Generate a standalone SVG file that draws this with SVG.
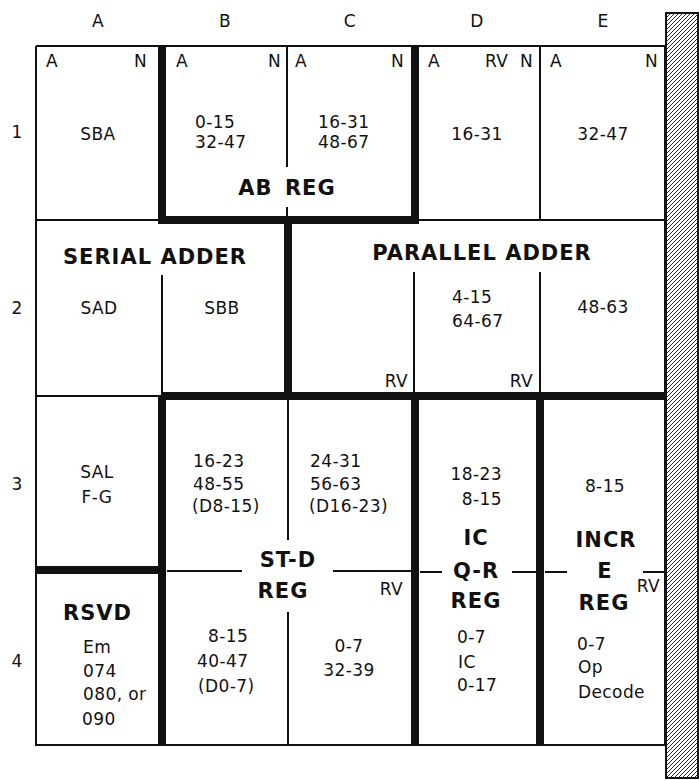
<svg xmlns="http://www.w3.org/2000/svg" width="699" height="780" viewBox="0 0 699 780">
<style>
text{font-family:"DejaVu Sans","Liberation Sans",sans-serif;fill:#111;}
.t{font-size:17px;letter-spacing:0.4px;}
.b{font-size:21px;font-weight:bold;letter-spacing:1px;}
.m{text-anchor:middle;}
.e{text-anchor:end;}
.thin{stroke:#111;stroke-width:2;fill:none;}
.thick{stroke:#111;stroke-width:8;fill:none;stroke-linecap:square;}
</style>
<defs>
<pattern id="hatch" patternUnits="userSpaceOnUse" width="4" height="4">
<path d="M-1,1 L1,-1 M0,4 L4,0 M3,5 L5,3" stroke="#111" stroke-width="0.9"/>
</pattern>
</defs>
<rect width="699" height="780" fill="#fff"/>

<g id="connectors">
<g id="thin-lines" class="thin">
<path d="M36,46 H665 M36,46 V745 H665 M665,46 V745"/>
<path d="M36,220 H162 M419,220 H665"/>
<path d="M287,46 V167 M287,207 V220"/>
<path d="M540,46 V220"/>
<path d="M162,275 V396 M414,272 V396 M540,272 V396"/>
<path d="M36,396 H162"/>
<path d="M288,400 V540 M288,612 V745"/>
<path d="M167,571 H242 M333,571 H411 M420,572 H442 M512,572 H536 M545,572 H567 M643,572 H665"/>
</g>
<g id="thick-lines" class="thick">
<path d="M162,46 V220 H415 V46" stroke-linejoin="miter" stroke-linecap="butt"/>
<path d="M288,220 V396"/>
<path d="M162,396 H665" stroke-linecap="butt"/>
<path d="M162,396 V745 M415,396 V745 M540,396 V745" stroke-linecap="butt"/>
<path d="M36,570 H162" stroke-linecap="butt"/>
</g>
</g>

<g id="bar">
<rect x="666" y="13" width="32" height="765" fill="url(#hatch)" stroke="#111" stroke-width="2"/>
</g>

<g id="headers">
<text x="98" y="27" class="t m">A</text>
<text x="225" y="27" class="t m">B</text>
<text x="350" y="27" class="t m">C</text>
<text x="477" y="27" class="t m">D</text>
<text x="603" y="27" class="t m">E</text>
<text x="17" y="138" class="t m">1</text>
<text x="17" y="314" class="t m">2</text>
<text x="17" y="490" class="t m">3</text>
<text x="17" y="667" class="t m">4</text>
</g>

<g id="cell-A1">
<text x="46" y="67" class="t">A</text>
<text x="147" y="67" class="t e">N</text>
<text x="98" y="140" class="t m">SBA</text>
</g>
<g id="cell-B1">
<text x="176" y="67" class="t">A</text>
<text x="281" y="67" class="t e">N</text>
<text x="195" y="128" class="t">0-15</text>
<text x="195" y="148" class="t">32-47</text>
</g>
<g id="cell-C1">
<text x="295" y="67" class="t">A</text>
<text x="404" y="67" class="t e">N</text>
<text x="318" y="128" class="t">16-31</text>
<text x="318" y="148" class="t">48-67</text>
</g>
<g id="ab-reg">
<text x="287" y="195" class="b m" word-spacing="4">AB REG</text>
</g>
<g id="cell-D1">
<text x="428" y="67" class="t">A</text>
<text x="485" y="67" class="t">RV</text>
<text x="533" y="67" class="t e">N</text>
<text x="477" y="140" class="t m">16-31</text>
</g>
<g id="cell-E1">
<text x="550" y="67" class="t">A</text>
<text x="658" y="67" class="t e">N</text>
<text x="603" y="140" class="t m">32-47</text>
</g>

<g id="serial-adder">
<text x="155" y="264" class="b m">SERIAL ADDER</text>
<text x="99" y="314" class="t m">SAD</text>
<text x="222" y="314" class="t m">SBB</text>
</g>
<g id="parallel-adder">
<text x="482" y="260" class="b m">PARALLEL ADDER</text>
<text x="452" y="303" class="t">4-15</text>
<text x="452" y="327" class="t">64-67</text>
<text x="603" y="313" class="t m">48-63</text>
<text x="408" y="387" class="t e">RV</text>
<text x="533" y="387" class="t e">RV</text>
</g>

<g id="cell-A3">
<text x="97" y="478" class="t m">SAL</text>
<text x="97" y="503" class="t m">F-G</text>
</g>
<g id="st-d-reg">
<text x="193" y="467" class="t">16-23</text>
<text x="193" y="490" class="t">48-55</text>
<text x="192" y="512" class="t">(D8-15)</text>
<text x="310" y="467" class="t">24-31</text>
<text x="310" y="490" class="t">56-63</text>
<text x="309" y="512" class="t">(D16-23)</text>
<text x="288" y="567" class="b m" letter-spacing="3">ST-D</text>
<text x="283" y="598" class="b m">REG</text>
<text x="403" y="595" class="t e">RV</text>
<text x="208" y="642" class="t">8-15</text>
<text x="197" y="667" class="t">40-47</text>
<text x="198" y="692" class="t">(D0-7)</text>
<text x="349" y="652" class="t m">0-7</text>
<text x="349" y="676" class="t m">32-39</text>
</g>
<g id="ic-qr-reg">
<text x="502" y="480" class="t e">18-23</text>
<text x="502" y="505" class="t e">8-15</text>
<text x="476" y="545" class="b m">IC</text>
<text x="476" y="578" class="b m">Q-R</text>
<text x="476" y="608" class="b m">REG</text>
<text x="457" y="643" class="t">0-7</text>
<text x="458" y="668" class="t">IC</text>
<text x="457" y="691" class="t">0-17</text>
</g>
<g id="incr-e-reg">
<text x="605" y="492" class="t m">8-15</text>
<text x="606" y="547" class="b m">INCR</text>
<text x="605" y="578" class="b m">E</text>
<text x="604" y="610" class="b m">REG</text>
<text x="660" y="592" class="t e">RV</text>
<text x="577" y="650" class="t">0-7</text>
<text x="578" y="673" class="t">Op</text>
<text x="578" y="698" class="t">Decode</text>
</g>
<g id="rsvd">
<text x="63" y="620" class="b" font-size="20" letter-spacing="3">RSVD</text>
<text x="83" y="653" class="t">Em</text>
<text x="83" y="677" class="t">074</text>
<text x="83" y="700" class="t">080, or</text>
<text x="82" y="725" class="t">090</text>
</g>
</svg>
